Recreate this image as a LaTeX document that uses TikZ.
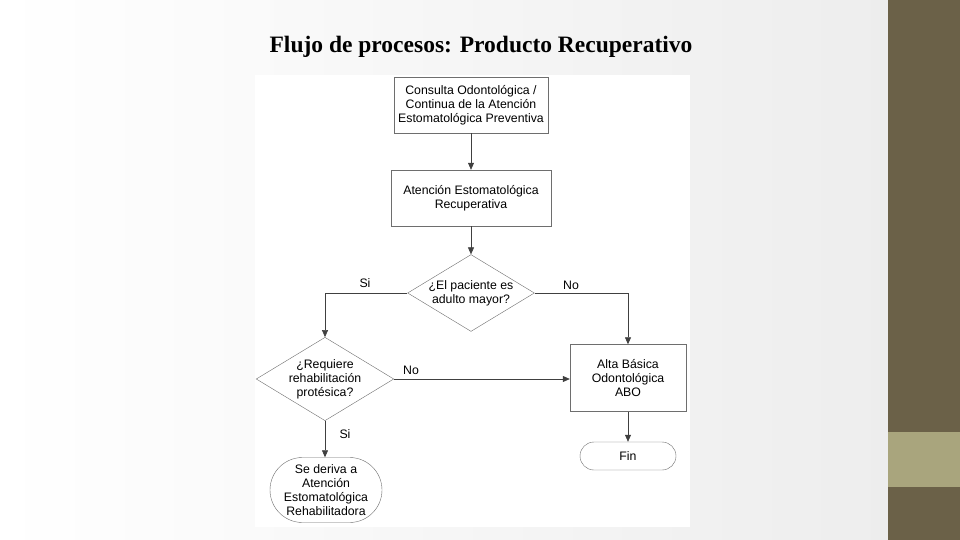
\documentclass[tikz,border=0pt]{standalone}
\usepackage{fontspec}
\setmainfont{Liberation Sans}
\newfontfamily\titlefont{Liberation Serif}
\usetikzlibrary{shapes.geometric,shapes.misc,arrows.meta}
\definecolor{olive}{HTML}{6B6148}
\definecolor{olivel}{HTML}{A9A57D}
\definecolor{edge}{HTML}{6E6E6E}
\begin{document}
\begin{tikzpicture}[x=1pt,y=-1pt,
  box/.style={draw=edge,fill=white,align=center,font=\fontsize{12.3}{14}\selectfont,inner sep=0pt},
  rect/.style={box,rectangle},
  dia/.style={box,diamond,aspect=1.65},
  term/.style={box,rounded rectangle},
  lab/.style={font=\fontsize{12.3}{14}\selectfont},
  arr/.style={draw=black!75,line width=0.6pt,-{Triangle[length=7pt,width=6pt]}}]
\useasboundingbox (0,0) rectangle (960,540);
\shade[left color=white,right color=black!7] (0,0) rectangle (888,540);
\fill[olive] (888,0) rectangle (960,540);
\fill[olivel] (888,432) rectangle (960,487);
\fill[white] (255,75) rectangle (690,527);
\node (t) [font=\titlefont\bfseries\fontsize{23.5}{26}\selectfont] at (481,47) {Flujo de procesos: Producto Recuperativo};
\node (b1) [rect,minimum width=154,minimum height=56] at (471,105) {Consulta Odontológica /\\Continua de la Atención\\Estomatológica Preventiva};
\node (b2) [rect,minimum width=160,minimum height=56] at (471,198) {Atención Estomatológica\\Recuperativa};
\node (d1) [dia,minimum width=126,minimum height=75] at (471,293) {¿El paciente es\\adulto mayor?};
\node (d2) [dia,minimum width=124,minimum height=77] at (325,379) {¿Requiere\\rehabilitación\\protésica?};
\node (b3) [rect,minimum width=116,minimum height=67] at (628,378) {Alta Básica\\Odontológica\\ABO};
\node (fin) [term,minimum width=96,minimum height=28] at (628,456) {Fin};
\node (rh) [term,rounded rectangle arc length=180,minimum width=112,minimum height=65] at (326,490) {Se deriva a\\Atención\\Estomatológica\\Rehabilitadora};
\draw[arr] (b1) -- (b2);
\draw[arr] (b2) -- (d1);
\draw[arr] (d1.west) -| (d2.north);
\draw[arr] (d1.east) -| (b3.north);
\draw[arr] (d2.east) -- (b3.west |- d2.east);
\draw[arr] (b3) -- (fin);
\draw[arr] (d2.south) -- (rh.north -| d2.south);
\node[lab] at (365,283) {Si};
\node[lab] at (571,285) {No};
\node[lab] at (411,370) {No};
\node[lab] at (345,434) {Si};
\end{tikzpicture}
\end{document}
